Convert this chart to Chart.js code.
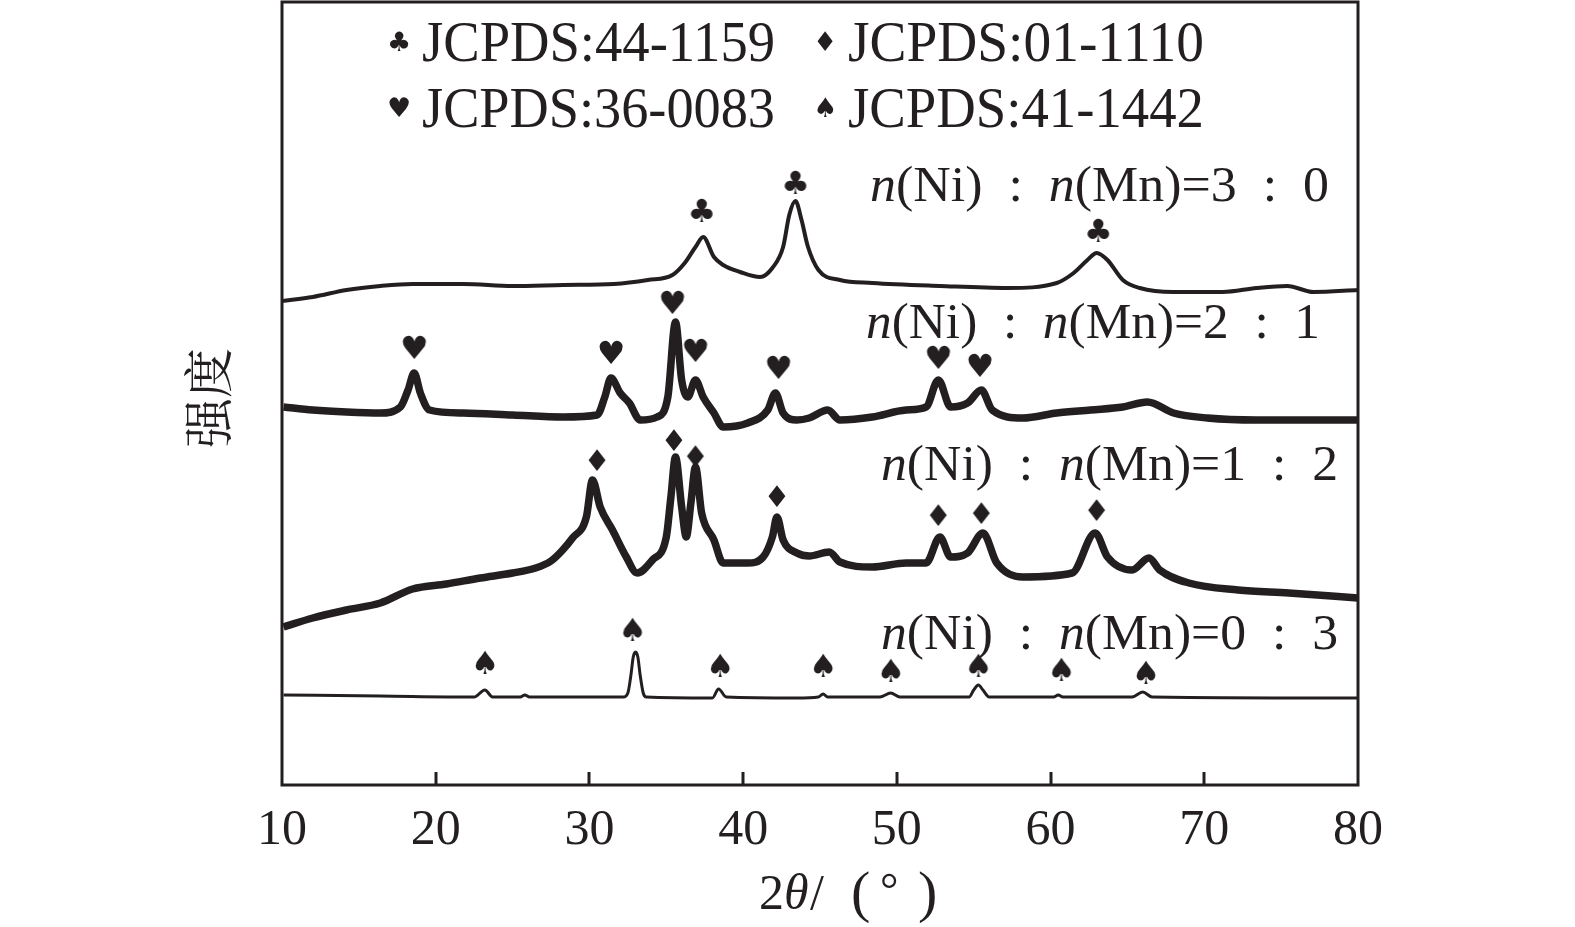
<!DOCTYPE html>
<html>
<head>
<meta charset="utf-8">
<script src="https://cdn.jsdelivr.net/npm/chart.js@4.4.1/dist/chart.umd.min.js"></script>
<style>
  html, body { margin: 0; padding: 0; background: #fff; }
  #wrap { width: 1575px; height: 927px; }
</style>
</head>
<body>
<div id="wrap"><canvas id="xrd" width="1575" height="927"></canvas></div>
<script>
'use strict';

const INK = '#231f20';

// n(Ni):n(Mn)=3:0
const angles30 = [10.0, 12.0, 14.2, 16.4, 18.5, 21.8, 25.0, 28.3, 31.6, 33.8, 35.4, 36.2, 36.9, 37.4, 38.1, 38.7, 39.8, 41.1, 41.9, 42.6, 43.0, 43.4, 43.8, 44.2, 44.9, 46.3, 48.4, 52.8, 57.2, 60.4, 61.5, 62.4, 63.0, 63.7, 64.7, 65.8, 68.0, 71.2, 73.4, 75.4, 77.1, 80.0];
const counts30 = [484, 488, 495, 499, 501, 501, 499, 500, 501, 505, 510, 522, 538, 548, 528, 520, 513, 508, 517, 538, 570, 584, 565, 539, 515, 505, 502, 499, 497, 502, 512, 525, 532, 525, 505, 497, 493, 493, 497, 499, 493, 495];

// n(Ni):n(Mn)=2:1
const angles21 = [10.1, 12.0, 14.2, 16.4, 17.7, 18.2, 18.6, 19.0, 19.6, 21.8, 25.0, 28.3, 30.5, 31.0, 31.4, 32.0, 32.6, 33.3, 34.4, 35.1, 35.6, 36.0, 36.4, 36.9, 37.4, 38.1, 38.7, 40.3, 41.6, 42.1, 42.6, 43.5, 44.3, 45.5, 46.3, 48.4, 50.6, 51.9, 52.7, 53.5, 54.6, 55.5, 56.2, 58.2, 60.4, 62.6, 64.7, 66.3, 68.0, 70.2, 73.4, 76.7, 80.0];
const counts21 = [378, 375, 373, 372, 378, 395, 412, 392, 375, 372, 370, 368, 370, 388, 407, 392, 382, 365, 368, 388, 463, 405, 388, 405, 388, 372, 358, 362, 375, 392, 372, 365, 367, 375, 365, 368, 375, 378, 405, 378, 382, 395, 375, 367, 372, 375, 378, 383, 372, 367, 365, 365, 365];

// n(Ni):n(Mn)=1:2
const angles12 = [10.1, 12.0, 14.2, 16.4, 18.5, 20.7, 22.9, 25.0, 26.5, 27.5, 28.2, 28.9, 29.8, 30.2, 30.7, 31.5, 32.4, 33.1, 34.1, 35.0, 35.3, 35.6, 36.0, 36.3, 36.6, 36.9, 37.3, 38.1, 38.7, 40.3, 41.3, 41.9, 42.2, 42.6, 43.5, 44.3, 45.6, 46.3, 48.4, 50.6, 51.9, 52.8, 53.5, 54.6, 55.6, 56.5, 58.2, 61.4, 62.9, 63.7, 65.3, 66.4, 67.1, 69.0, 72.2, 75.5, 80.0];
const counts12 = [158, 167, 175, 182, 196, 201, 207, 212, 217, 224, 234, 247, 268, 305, 278, 255, 228, 212, 225, 248, 288, 328, 278, 248, 282, 318, 272, 245, 222, 222, 228, 248, 268, 245, 232, 229, 233, 223, 218, 222, 222, 248, 228, 232, 252, 222, 208, 212, 252, 228, 215, 227, 215, 202, 195, 192, 187];

// n(Ni):n(Mn)=0:3
const angles03 = [10.1, 16.4, 22.5, 23.2, 23.7, 25.5, 25.8, 26.1, 32.2, 32.5, 32.7, 32.85, 33.0, 33.15, 33.3, 33.5, 33.7, 38.0, 38.4, 38.9, 43.5, 44.9, 45.2, 45.5, 46.3, 48.9, 49.6, 50.2, 54.7, 55.0, 55.3, 55.6, 56.0, 60.2, 60.5, 60.8, 65.3, 66.0, 66.6, 80.0];
const counts03 = [90, 89, 88, 95, 88, 88, 90, 88, 88, 92, 110, 128, 133, 128, 110, 92, 88, 87, 96, 88, 87, 88, 91, 88, 88, 88, 92, 88, 88, 95, 100, 95, 88, 88, 90, 88, 88, 93, 88, 87];

// phase markers: 2θ and the height each symbol sits at
const clubAngles = [37.3, 43.4, 63.1];
const clubLevels = [572, 600, 552];
const heartAngles = [18.6, 31.4, 35.4, 36.9, 42.3, 52.7, 55.4];
const heartLevels = [435, 430, 480, 432, 415, 425, 417];
const diamondAngles = [30.5, 35.5, 36.9, 42.2, 52.7, 55.5, 63.0];
const diamondLevels = [323, 343, 327, 287, 268, 270, 273];
const spadeAngles = [23.2, 32.8, 38.5, 45.2, 49.6, 55.3, 60.7, 66.2];
const spadeLevels = [120, 153, 117, 117, 112, 117, 113, 110];

const xTicks = [10, 20, 30, 40, 50, 60, 70, 80];

const legendRows = [
  [{ glyph: '\u2663', text: 'JCPDS:44-1159' }, { glyph: '\u2666', text: 'JCPDS:01-1110' }],
  [{ glyph: '\u2665', text: 'JCPDS:36-0083' }, { glyph: '\u2660', text: 'JCPDS:41-1442' }]
];
const sampleLabels = ['3\u2002:\u20020', '2\u2002:\u20021', '1\u2002:\u20022', '0\u2002:\u20023'];

const SERIF = "'Liberation Serif', 'Times New Roman', serif";

function pairs(xs, ys) {
  return xs.map((x, i) => ({ x, y: ys[i] }));
}

function glyphCanvas(ch, size) {
  const c = document.createElement('canvas');
  c.width = size + 10;
  c.height = size + 10;
  const g = c.getContext('2d');
  g.fillStyle = INK;
  g.font = `${size}px 'DejaVu Sans'`;
  g.textAlign = 'center';
  g.textBaseline = 'middle';
  g.fillText(ch, c.width / 2, c.height / 2 + 1);
  return c;
}

function curve(xs, ys, width) {
  return {
    type: 'line',
    data: pairs(xs, ys),
    borderColor: INK,
    borderWidth: width,
    pointRadius: 0,
    fill: false,
    cubicInterpolationMode: 'monotone',
    borderJoinStyle: 'round',
    borderCapStyle: 'butt'
  };
}

function markers(xs, ys, ch, size) {
  return {
    type: 'scatter',
    data: pairs(xs, ys),
    pointStyle: glyphCanvas(ch, size),
    pointRadius: size / 2,
    showLine: false
  };
}

// text made of pieces, some italic, squeezed/stretched to a given width
function fitText(ctx, pieces, left, right, baseline, size) {
  const fontOf = p => `${p.italic ? 'italic ' : ''}${size}px ${SERIF}`;
  let natural = 0;
  pieces.forEach(p => { ctx.font = fontOf(p); natural += ctx.measureText(p.t).width; });
  const sx = (right - left) / natural;
  ctx.save();
  ctx.translate(left, baseline);
  ctx.scale(sx, 1);
  let x = 0;
  pieces.forEach(p => {
    ctx.font = fontOf(p);
    ctx.fillText(p.t, x, 0);
    x += ctx.measureText(p.t).width;
  });
  ctx.restore();
}

const decorations = {
  id: 'decorations',
  afterDraw(chart) {
    const { ctx, chartArea: a, scales } = chart;
    ctx.save();
    ctx.fillStyle = INK;
    ctx.strokeStyle = INK;
    ctx.textAlign = 'left';
    ctx.textBaseline = 'alphabetic';

    // frame
    ctx.lineWidth = 3;
    ctx.strokeRect(a.left, a.top, a.right - a.left, a.bottom - a.top);

    // inward ticks
    xTicks.slice(1, -1).forEach(v => {
      const px = Math.round(scales.x.getPixelForValue(v));
      ctx.beginPath();
      ctx.moveTo(px, a.bottom);
      ctx.lineTo(px, a.bottom - 13);
      ctx.stroke();
    });

    // legend
    const colText = [[422, 775], [848, 1204]];
    const colGlyph = [399, 825];
    const rowBase = [61, 127];
    legendRows.forEach((row, r) => {
      row.forEach((item, c) => {
        ctx.save();
        ctx.font = "27px 'DejaVu Sans'";
        ctx.textAlign = 'center';
        ctx.textBaseline = 'middle';
        ctx.fillText(item.glyph, colGlyph[c], rowBase[r] - 17);
        ctx.restore();
        fitText(ctx, [{ t: item.text }], colText[c][0], colText[c][1], rowBase[r], 56);
      });
    });

    // sample labels
    const labelBox = [[870, 1329, 201], [866, 1320, 338], [881, 1338, 480], [881, 1338, 649]];
    sampleLabels.forEach((ratio, i) => {
      const [l, r, b] = labelBox[i];
      fitText(ctx, [
        { t: 'n', italic: true }, { t: '(Ni)\u2002:\u2002' },
        { t: 'n', italic: true }, { t: '(Mn)=' + ratio }
      ], l, r, b, 51);
    });

    // x title
    ctx.font = `50px ${SERIF}`;
    ctx.fillText('2', 759, 909);
    ctx.font = `italic 50px ${SERIF}`;
    ctx.fillText('\u03b8', 784, 909);
    ctx.font = `50px ${SERIF}`;
    ctx.fillText('/', 810, 909);
    ctx.font = `58px ${SERIF}`;
    ctx.fillText('(', 851, 911);
    ctx.fillText(')', 918, 911);
    ctx.font = `46px ${SERIF}`;
    ctx.fillText('\u00b0', 880, 905);

    // y title
    ctx.save();
    ctx.translate(208, 398);
    ctx.rotate(-Math.PI / 2);
    ctx.font = "50px 'Noto Serif CJK SC', 'Noto Sans CJK SC'";
    ctx.textAlign = 'center';
    ctx.textBaseline = 'middle';
    ctx.fillText('\u5f3a\u5ea6', 0, 0);
    ctx.restore();

    ctx.restore();
  }
};

new Chart(document.getElementById('xrd'), {
  data: {
    datasets: [
      curve(angles30, counts30, 4),
      curve(angles21, counts21, 7.5),
      curve(angles12, counts12, 7.5),
      curve(angles03, counts03, 3),
      markers(clubAngles, clubLevels, '\u2663', 32),
      markers(heartAngles, heartLevels, '\u2665', 32),
      markers(diamondAngles, diamondLevels, '\u2666', 30),
      markers(spadeAngles, spadeLevels, '\u2660', 32)
    ]
  },
  options: {
    responsive: false,
    animation: false,
    devicePixelRatio: 1,
    layout: { autoPadding: false, padding: { left: 282, right: 217, top: 2, bottom: 0 } },
    plugins: { legend: { display: false }, tooltip: { enabled: false } },
    scales: {
      x: {
        type: 'linear',
        min: 10,
        max: 80,
        afterBuildTicks: s => { s.ticks = xTicks.map(v => ({ value: v })); },
        afterFit: s => { s.height = 142; },
        grid: { drawOnChartArea: false, drawTicks: false },
        border: { display: false },
        ticks: { color: INK, padding: 16, font: { family: SERIF, size: 50 } }
      },
      y: { display: false, min: 0, max: 783 }
    }
  },
  plugins: [decorations]
});
</script>
</body>
</html>
